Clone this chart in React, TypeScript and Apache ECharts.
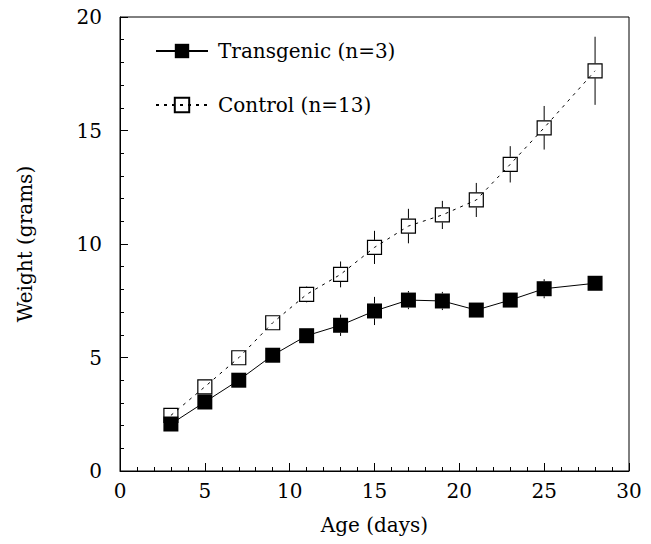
import React, { useEffect, useRef } from "react";
import * as echarts from "echarts";

const days = [3, 5, 7, 9, 11, 13, 15, 17, 19, 21, 23, 25, 28];
const transgenic = [2.07, 3.04, 4.0, 5.1, 5.96, 6.42, 7.05, 7.53, 7.49, 7.09, 7.53, 8.03, 8.27];
const transgenicErr = [0.15, 0.15, 0.15, 0.2, 0.2, 0.47, 0.62, 0.4, 0.4, 0.25, 0.25, 0.42, 0.2];
const control = [2.45, 3.71, 4.99, 6.53, 7.78, 8.66, 9.85, 10.79, 11.28, 11.94, 13.51, 15.12, 17.63];
const controlErr = [0.15, 0.2, 0.2, 0.25, 0.35, 0.57, 0.73, 0.76, 0.62, 0.75, 0.8, 0.96, 1.5];
const xTicks = [0, 5, 10, 15, 20, 25, 30];
const yTicks = [0, 5, 10, 15, 20];
const seriesNames = ["Transgenic (n=3)", "Control (n=13)"];

const FONT = "DejaVu Serif";
const FS = 20;
const HALF = 7.5;

function errorData(vals: number[], errs: number[]) {
  return days.map((d, i) => [d, vals[i] - errs[i], vals[i] + errs[i], vals[i]]);
}

function errRender(params: any, api: any) {
  const x = api.value(0);
  const lo = api.coord([x, api.value(1)]);
  const hi = api.coord([x, api.value(2)]);
  const c = api.coord([x, api.value(3)]);
  const children: any[] = [];
  if (hi[1] < c[1] - HALF) {
    children.push({
      type: "line",
      shape: { x1: hi[0], y1: hi[1], x2: hi[0], y2: c[1] - HALF },
      style: { stroke: "#000", lineWidth: 1 },
    });
  }
  if (lo[1] > c[1] + HALF) {
    children.push({
      type: "line",
      shape: { x1: lo[0], y1: c[1] + HALF, x2: lo[0], y2: lo[1] },
      style: { stroke: "#000", lineWidth: 1 },
    });
  }
  return { type: "group", children };
}

export default function App() {
  const ref = useRef<HTMLDivElement>(null);
  useEffect(() => {
    const chart = echarts.init(ref.current!, null, { renderer: "svg" });
    chart.setOption({
      animation: false,
      backgroundColor: "#fff",
      textStyle: { fontFamily: FONT, color: "#000" },
      grid: {
        left: 120,
        right: 22,
        top: 17,
        bottom: 73,
        show: true,
        borderColor: "#000",
        borderWidth: 1,
        containLabel: false,
        outerBoundsMode: "none",
      },
      legend: {
        orient: "vertical",
        left: 150,
        top: 36,
        itemWidth: 52,
        itemHeight: 18,
        itemGap: 34,
        data: seriesNames,
        textStyle: { fontFamily: FONT, fontSize: FS, color: "#000", padding: [0, 0, 0, 5] },
      },
      xAxis: {
        type: "value",
        min: 0,
        max: 30,
        interval: 5,
        name: "Age (days)",
        nameLocation: "middle",
        nameGap: 44,
        nameTextStyle: { fontFamily: FONT, fontSize: FS, color: "#000" },
        axisLine: { show: true, lineStyle: { color: "#000", width: 1 } },
        axisTick: { show: true, inside: true, length: 8, lineStyle: { color: "#000" } },
        minorTick: { show: true, splitNumber: 5, length: 4, lineStyle: { color: "#000" } },
        splitLine: { show: false },
        axisLabel: {
          margin: 10,
          fontFamily: FONT,
          fontSize: FS,
          color: "#000",
          formatter: (v: number) => (xTicks.includes(v) ? String(v) : ""),
        },
      },
      yAxis: {
        type: "value",
        min: 0,
        max: 20,
        interval: 5,
        name: "Weight (grams)",
        nameLocation: "middle",
        nameGap: 85,
        nameRotate: 90,
        nameTextStyle: { fontFamily: FONT, fontSize: FS, color: "#000" },
        axisLine: { show: true, lineStyle: { color: "#000", width: 1 } },
        axisTick: { show: true, inside: true, length: 8, lineStyle: { color: "#000" } },
        minorTick: { show: true, splitNumber: 5, length: 4, lineStyle: { color: "#000" } },
        splitLine: { show: false },
        axisLabel: {
          margin: 18,
          fontFamily: FONT,
          fontSize: FS,
          color: "#000",
          formatter: (v: number) => (yTicks.includes(v) ? String(v) : ""),
        },
      },
      series: [
        {
          type: "custom",
          name: "ctrlErr",
          renderItem: errRender,
          data: errorData(control, controlErr),
          encode: { x: 0, y: [1, 2] },
          z: 1,
          silent: true,
        },
        {
          type: "custom",
          name: "tgErr",
          renderItem: errRender,
          data: errorData(transgenic, transgenicErr),
          encode: { x: 0, y: [1, 2] },
          z: 1,
          silent: true,
        },
        {
          type: "line",
          name: seriesNames[1],
          data: days.map((d, i) => [d, control[i]]),
          symbol: "rect",
          symbolSize: 14,
          lineStyle: { color: "#000", width: 1, type: [3, 5] },
          itemStyle: { color: "rgba(255,255,255,0)", borderColor: "#000", borderWidth: 1.2 },
          z: 2,
        },
        {
          type: "line",
          name: seriesNames[0],
          data: days.map((d, i) => [d, transgenic[i]]),
          symbol: "rect",
          symbolSize: 15,
          lineStyle: { color: "#000", width: 1 },
          itemStyle: { color: "#000", borderColor: "#000", borderWidth: 0 },
          z: 3,
        },
      ],
    });
    return () => chart.dispose();
  }, []);
  return (
    <div
      ref={ref}
      style={{ position: "fixed", left: 0, top: 0, width: 651, height: 544 }}
    />
  );
}
